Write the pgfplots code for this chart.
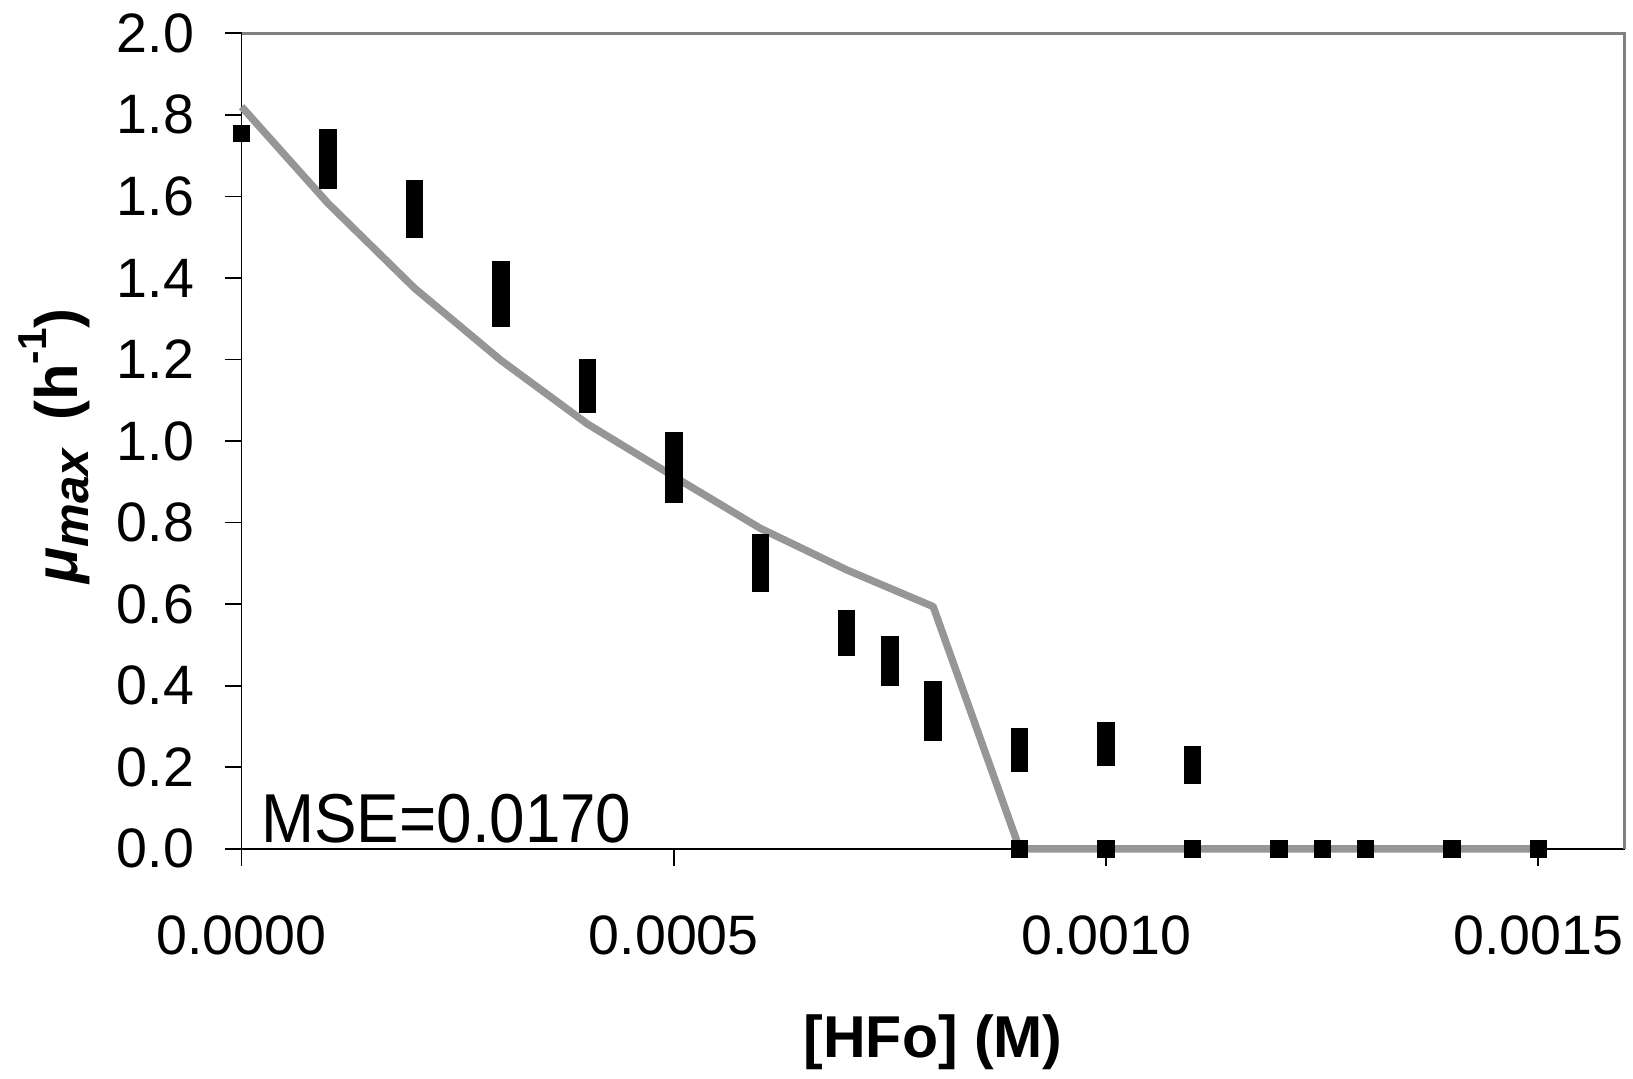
\documentclass[border=0pt]{standalone}
\usepackage{pgfplots}
\pgfplotsset{compat=1.18}
\usepackage{fontspec}
\setmainfont{Liberation Sans}

\definecolor{fitgray}{RGB}{150,150,150}
\definecolor{framegray}{RGB}{128,128,128}

% measured growth rates (replicates share an x value)
\pgfplotstableread{
x        mu
0        1.755
0.0001   1.745
0.0001   1.71
0.0001   1.675
0.0001   1.64
0.0002   1.62
0.0002   1.585
0.0002   1.55
0.0002   1.52
0.0003   1.42
0.0003   1.39
0.0003   1.36
0.0003   1.33
0.0003   1.30
0.0004   1.18
0.0004   1.15
0.0004   1.12
0.0004   1.09
0.0005   1.00
0.0005   0.965
0.0005   0.935
0.0005   0.90
0.0005   0.87
0.0006   0.75
0.0006   0.715
0.0006   0.685
0.0006   0.65
0.0007   0.565
0.0007   0.53
0.0007   0.495
0.00075  0.50
0.00075  0.46
0.00075  0.42
0.0008   0.39
0.0008   0.355
0.0008   0.32
0.0008   0.285
0.0009   0.275
0.0009   0.24
0.0009   0.21
0.0009   0
0.0010   0.29
0.0010   0.255
0.0010   0.225
0.0010   0
0.0011   0.23
0.0011   0.205
0.0011   0.18
0.0011   0
0.0012   0
0.00125  0
0.0013   0
0.0014   0
0.0015   0
}\measured

% model prediction
\pgfplotstableread{
x        mu
0        1.82
0.0001   1.583
0.0002   1.375
0.0003   1.198
0.0004   1.042
0.0005   0.913
0.0006   0.786
0.0007   0.684
0.00075  0.639
0.0008   0.594
0.0009   0
0.0010   0
0.0011   0
0.0012   0
0.00125  0
0.0013   0
0.0014   0
0.0015   0
}\model

\begin{document}
\begin{tikzpicture}
\useasboundingbox (-2.416cm,-2.292cm) rectangle (13.914cm,8.488cm);
\begin{axis}[
  scale only axis,
  width=13.832cm, height=8.155cm,
  xmin=0, xmax=0.0016, ymin=0, ymax=2.0,
  clip=false,
  axis x line*=bottom, axis y line*=left,
  axis line style={black, line width=0.5pt},
  xtick={0,0.0005,0.001,0.0015},
  xticklabels={0.0000,0.0005,0.0010,0.0015},
  ytick={0,0.2,0.4,0.6,0.8,1.0,1.2,1.4,1.6,1.8,2.0},
  yticklabels={0.0,0.2,0.4,0.6,0.8,1.0,1.2,1.4,1.6,1.8,2.0},
  scaled x ticks=false, scaled y ticks=false,
  tick align=outside,
  major tick length=1.7mm,
  tick style={black, line width=0.5pt},
  ticklabel style={font=\fontsize{15.8}{18}\selectfont},
  yticklabel style={anchor=east, inner sep=0pt, xshift=-3.0mm},
  xticklabel style={anchor=north, inner sep=0pt, yshift=-4.9mm},
  xlabel={[HFo] (M)},
  ylabel={\textit{μ}\raisebox{-0.35ex}{\fontsize{14}{16}\selectfont\textit{max}}\, (h\raisebox{1.0ex}{\fontsize{11.5}{13}\selectfont -1})},
  xlabel style={font=\fontsize{16.8}{19}\selectfont\bfseries,
    at={(axis description cs:0.5,-0.2553)}, anchor=base},
  ylabel style={font=\fontsize{17}{19}\selectfont\bfseries,
    at={(axis description cs:-0.1185,0.494)}, anchor=base},
]
\draw[framegray, line width=0.77pt] (rel axis cs:0,1) -- (rel axis cs:1,1) -- (rel axis cs:1,0);
\addplot[fitgray, line width=2.1pt, line join=round, no markers] table[x=x, y=mu] {\model};
\addplot[only marks, mark=square*, mark size=0.8mm, mark options={black, fill=black}] table[x=x, y=mu] {\measured};
\node[anchor=base west, inner sep=0pt, font=\fontsize{19.7}{22}\selectfont]
  at (rel axis cs:0.0138,0.0075) {\scalebox{0.92}[1]{MSE=0.0170}};
\end{axis}
\end{tikzpicture}
\end{document}
